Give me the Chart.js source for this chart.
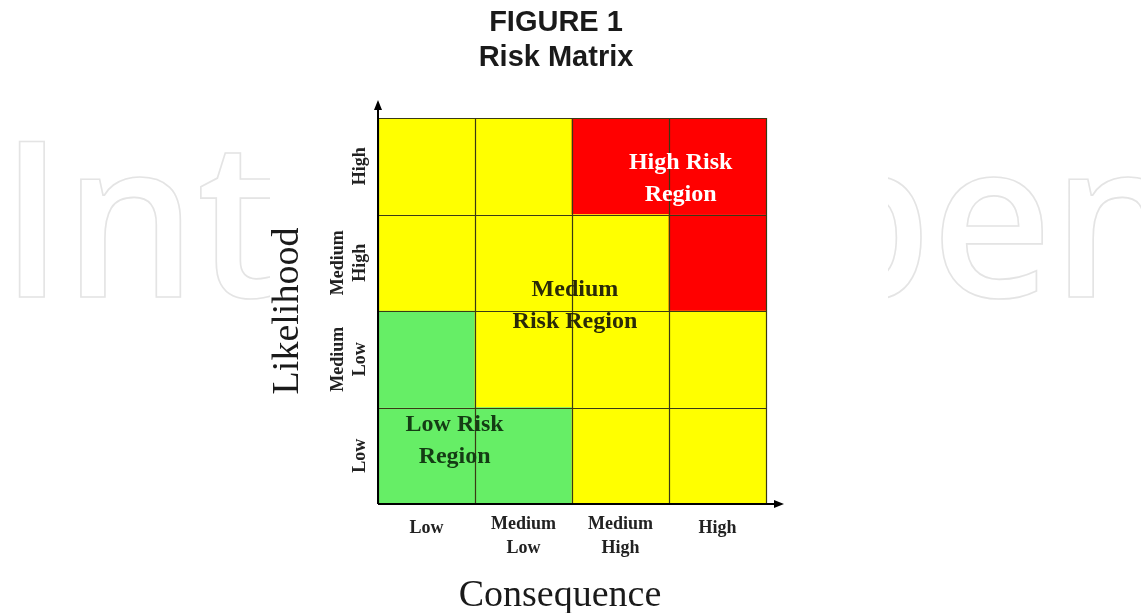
<!DOCTYPE html>
<html lang="en">

<head>
  <meta charset="UTF-8">
  <title>Figure 1 | Risk Matrix</title>
  <script src="https://cdn.jsdelivr.net/npm/chart.js"></script>
  <style>
    body {
      margin: 0;
      background: #ffffff;
    }

    .chart-container {
      width: 1141px;
      height: 613px;
      position: relative;
    }
  </style>
</head>

<body>

  <div class="chart-container">
    <canvas id="riskChart"></canvas>
  </div>

  <script>
    // Matrix data
    const consequenceLabels = [['Low'], ['Medium', 'Low'], ['Medium', 'High'], ['High']];
    const likelihoodLabels = [['Low'], ['Medium', 'Low'], ['Medium', 'High'], ['High']];
    // risk level per cell, rows = likelihood (bottom to top), cols = consequence
    const rowLow = ['L', 'L', 'M', 'M'];
    const rowMediumLow = ['L', 'M', 'M', 'M'];
    const rowMediumHigh = ['M', 'M', 'M', 'H'];
    const rowHigh = ['M', 'M', 'H', 'H'];
    const riskRows = [rowLow, rowMediumLow, rowMediumHigh, rowHigh];
    const regionNames = [['Low Risk', 'Region'], ['Medium', 'Risk Region'], ['High Risk', 'Region']];

    const riskColors = { L: '#66ee66', M: '#ffff00', H: '#ff0000' };
    const regionText = [
      { x: 0.29, y: 0.65, color: '#143c14' },
      { x: 1.53, y: 2.05, color: '#2a2a08' },
      { x: 2.62, y: 3.37, color: '#ffffff' }
    ];

    const datasets = riskRows.map((row, i) => ({
      label: likelihoodLabels[i].join(' '),
      data: row.map(() => 1),
      backgroundColor: row.map(r => riskColors[r]),
      borderWidth: 0,
      barPercentage: 1,
      categoryPercentage: 1
    }));

    const serif = "'Liberation Serif', 'DejaVu Serif', serif";
    const sans = "'Liberation Sans', Arial, sans-serif";

    // watermark behind the figure, figure box on top of it
    const watermark = {
      id: 'watermark',
      beforeDraw(chart) {
        const ctx = chart.ctx;
        ctx.save();
        ctx.fillStyle = '#ffffff';
        ctx.fillRect(0, 0, chart.width, chart.height);
        ctx.font = "600 218px 'Open Sans', 'DejaVu Sans', sans-serif";
        ctx.strokeStyle = '#e4e4e4';
        ctx.lineWidth = 1.6;
        ctx.textBaseline = 'alphabetic';
        ctx.textAlign = 'left';
        const w = ctx.measureText('IntechOpen').width;
        ctx.translate(0, 297);
        ctx.scale(1185 / w, 1);
        ctx.lineWidth = 1.6 * w / 1185;
        ctx.strokeText('IntechOpen', 0, 0);
        ctx.setTransform(1, 0, 0, 1, 0, 0);
        ctx.fillStyle = '#ffffff';
        ctx.fillRect(270, 0, 618, chart.height);
        ctx.restore();
      }
    };

    // grid lines, arrows and all text
    const decorations = {
      id: 'decorations',
      afterDatasetsDraw(chart) {
        const ctx = chart.ctx;
        const area = chart.chartArea;
        const xs = chart.scales.x;
        const ys = chart.scales.y;
        ctx.save();

        // cell borders
        ctx.strokeStyle = '#3a3a14';
        ctx.lineWidth = 1.2;
        for (let i = 0; i <= 4; i++) {
          const y = Math.round(ys.getPixelForValue(i)) + 0.5;
          ctx.beginPath();
          ctx.moveTo(area.left, y);
          ctx.lineTo(area.right, y);
          ctx.stroke();
          const x = Math.round(xs.getPixelForValue(i - 0.5)) + 0.5;
          ctx.beginPath();
          ctx.moveTo(x, area.top);
          ctx.lineTo(x, area.bottom);
          ctx.stroke();
        }

        // axes with arrows
        ctx.strokeStyle = '#000';
        ctx.fillStyle = '#000';
        ctx.lineWidth = 2;
        ctx.beginPath();
        ctx.moveTo(area.left, area.bottom);
        ctx.lineTo(area.left, area.top - 12);
        ctx.moveTo(area.left, area.bottom);
        ctx.lineTo(area.right + 12, area.bottom);
        ctx.stroke();
        ctx.beginPath();
        ctx.moveTo(area.left, area.top - 18);
        ctx.lineTo(area.left - 4, area.top - 8);
        ctx.lineTo(area.left + 4, area.top - 8);
        ctx.closePath();
        ctx.fill();
        ctx.beginPath();
        ctx.moveTo(area.right + 18, area.bottom);
        ctx.lineTo(area.right + 8, area.bottom - 4);
        ctx.lineTo(area.right + 8, area.bottom + 4);
        ctx.closePath();
        ctx.fill();

        // x tick labels
        ctx.fillStyle = '#222';
        ctx.font = 'bold 18px ' + serif;
        ctx.textAlign = 'center';
        ctx.textBaseline = 'middle';
        consequenceLabels.forEach((lines, i) => {
          const x = xs.getPixelForValue(i);
          const y0 = area.bottom + (lines.length > 1 ? 20 : 24);
          lines.forEach((t, j) => ctx.fillText(t, x, y0 + j * 24));
        });

        // y tick labels (rotated)
        likelihoodLabels.forEach((lines, i) => {
          const y = ys.getPixelForValue(i + 0.5);
          const n = lines.length;
          lines.forEach((t, j) => {
            ctx.save();
            ctx.translate(area.left - 18 - (n - 1 - j) * 22, y);
            ctx.rotate(-Math.PI / 2);
            ctx.fillText(t, 0, 0);
            ctx.restore();
          });
        });

        // region labels
        ctx.font = 'bold 24px ' + serif;
        regionNames.forEach((lines, k) => {
          const r = regionText[k];
          const x = xs.getPixelForValue(r.x);
          const y = ys.getPixelForValue(r.y);
          ctx.fillStyle = r.color;
          lines.forEach((t, j) => ctx.fillText(t, x, y + (j - (lines.length - 1) / 2) * 32));
        });

        // axis titles
        ctx.fillStyle = '#1a1a1a';
        ctx.font = '38px ' + serif;
        ctx.fillText('Consequence', (area.left + area.right) / 2 - 12, area.bottom + 92);
        ctx.save();
        ctx.translate(area.left - 90, (area.top + area.bottom) / 2);
        ctx.rotate(-Math.PI / 2);
        ctx.fillText('Likelihood', 0, 0);
        ctx.restore();

        // figure title
        ctx.fillStyle = '#1a1a1a';
        ctx.font = 'bold 29px ' + sans;
        ctx.fillText('FIGURE 1', 556, 23);
        ctx.fillText('Risk Matrix', 556, 58);

        ctx.restore();
      }
    };

    const ctx = document.getElementById('riskChart').getContext('2d');
    new Chart(ctx, {
      type: 'bar',
      data: {
        labels: consequenceLabels.map(l => l.join(' ')),
        datasets: datasets
      },
      options: {
        responsive: true,
        maintainAspectRatio: false,
        animation: false,
        layout: {
          padding: { left: 378, right: 375, top: 118, bottom: 109 }
        },
        plugins: {
          legend: { display: false },
          title: { display: false },
          tooltip: { enabled: false }
        },
        scales: {
          x: { stacked: true, display: false },
          y: { stacked: true, display: false, min: 0, max: 4 }
        }
      },
      plugins: [watermark, decorations]
    });
  </script>

</body>

</html>
